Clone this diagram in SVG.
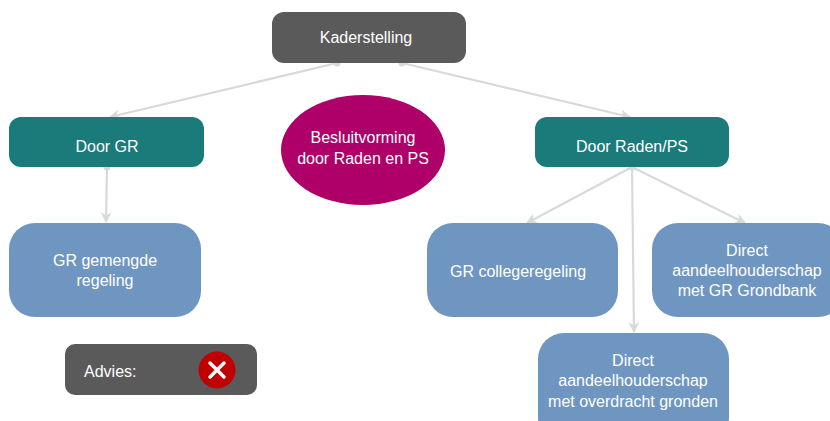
<svg xmlns="http://www.w3.org/2000/svg" width="830" height="421" viewBox="0 0 830 421">
<style>
  text { font-family: "Liberation Sans", Arial, sans-serif; font-size: 16px; fill: #ffffff; text-anchor: middle; }
  .dark { fill: #5a5a5a; }
  .teal { fill: #1b7a7a; }
  .blue { fill: #6f96c0; }
  .conn { stroke: #d9d9d9; stroke-width: 2.2; fill: none; marker-end: url(#arr); }
  .dot { fill: #d9d9d9; }
</style>
<defs>
  <marker id="arr" viewBox="0 0 10 10" refX="9" refY="5" markerWidth="5" markerHeight="5" orient="auto" markerUnits="strokeWidth">
    <path d="M0,0 L10,5 L0,10 L3,5 Z" fill="#d9d9d9"/>
  </marker>
</defs>
<rect width="830" height="421" fill="#ffffff"/>
<g id="connectors">
  <line class="conn" x1="337" y1="63" x2="110" y2="117"/>
  <line class="conn" x1="402" y1="63" x2="630" y2="117"/>
  <line class="conn" x1="107" y1="167" x2="106" y2="222"/>
  <line class="conn" x1="632" y1="167" x2="527" y2="223"/>
  <line class="conn" x1="632" y1="167" x2="634" y2="332"/>
  <line class="conn" x1="632" y1="167" x2="745" y2="223"/>
  <circle class="dot" cx="337" cy="63" r="3.5"/>
  <circle class="dot" cx="402" cy="63" r="3.5"/>
  <circle class="dot" cx="107" cy="167" r="3.5"/>
  <circle class="dot" cx="632" cy="167" r="3.5"/>
</g>
<g id="kaderstelling">
  <rect class="dark" x="272" y="12" width="194" height="51" rx="12"/>
  <text x="366" y="43">Kaderstelling</text>
</g>
<g id="door-gr">
  <rect class="teal" x="9" y="117" width="195" height="50" rx="12"/>
  <text x="107" y="152">Door GR</text>
</g>
<g id="besluitvorming">
  <ellipse cx="363" cy="150" rx="82" ry="55" fill="#ae0068"/>
  <text x="363" y="143">Besluitvorming</text>
  <text x="363" y="164">door Raden en PS</text>
</g>
<g id="door-raden-ps">
  <rect class="teal" x="535" y="117" width="194" height="50" rx="12"/>
  <text x="632" y="152">Door Raden/PS</text>
</g>
<g id="gr-gemengde">
  <rect class="blue" x="9" y="223" width="192" height="94" rx="26"/>
  <text x="105" y="266">GR gemengde</text>
  <text x="105" y="286">regeling</text>
</g>
<g id="gr-collegeregeling">
  <rect class="blue" x="427" y="223" width="191" height="94" rx="26"/>
  <text x="518" y="277">GR collegeregeling</text>
</g>
<g id="direct-grondbank">
  <rect class="blue" x="652" y="223" width="192" height="94" rx="26"/>
  <text x="747" y="256">Direct</text>
  <text x="747" y="276">aandeelhouderschap</text>
  <text x="747" y="296">met GR Grondbank</text>
</g>
<g id="direct-overdracht">
  <rect class="blue" x="538" y="333" width="191" height="110" rx="26"/>
  <text x="633" y="366">Direct</text>
  <text x="633" y="386">aandeelhouderschap</text>
  <text x="633" y="407">met overdracht gronden</text>
</g>
<g id="advies">
  <rect class="dark" x="65" y="344" width="192" height="51" rx="10"/>
  <text x="84" y="377" style="text-anchor:start">Advies:</text>
  <circle cx="217" cy="370" r="18.5" fill="#c00000"/>
  <path d="M210,363 L224,377 M224,363 L210,377" stroke="#ffffff" stroke-width="3.5" stroke-linecap="round"/>
</g>
</svg>
